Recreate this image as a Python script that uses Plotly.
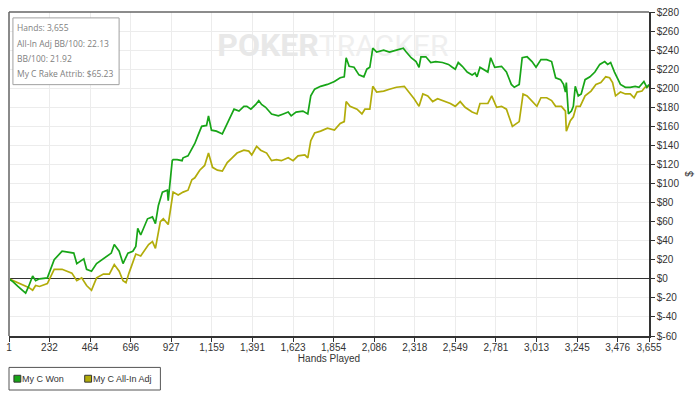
import plotly.graph_objects as go

# ---------------- data ----------------
won_hands = [1, 23, 52, 80, 96, 113, 136, 153, 175, 220, 259, 304, 371, 388, 428, 444, 472, 501, 540, 585,
             602, 630, 652, 680, 708, 725, 736, 753, 792, 820, 837, 854, 877, 905, 910, 922, 933, 938, 961, 989,
             995, 1023, 1045, 1062, 1079, 1101, 1129, 1140, 1157, 1185, 1219, 1242, 1258, 1286, 1314, 1342, 1359,
             1382, 1410, 1427, 1443, 1466, 1500, 1539, 1567, 1595, 1612, 1640, 1679, 1707, 1724, 1746, 1780, 1819,
             1859, 1892, 1915, 1926, 1943, 1971, 1999, 2027, 2044, 2061, 2078, 2100, 2140, 2173, 2213, 2252, 2269,
             2297, 2325, 2342, 2353, 2381, 2409, 2437, 2476, 2510, 2532, 2549, 2566, 2589, 2617, 2645, 2662, 2673,
             2690, 2735, 2751, 2774, 2813, 2841, 2869, 2886, 2914, 2931, 2959, 2987, 3010, 3038, 3071, 3099, 3122,
             3150, 3167, 3178, 3183, 3195, 3212, 3223, 3234, 3251, 3268, 3290, 3318, 3346, 3374, 3402, 3419, 3436,
             3458, 3475, 3492, 3520, 3548, 3576, 3598, 3626, 3643, 3655]
won_values = [0, -3, -8, -12, -15, -8, 3, -2, 0, 1, 20, 29, 27, 16, 21, 10, 8, 16, 21, 27,
              36, 29, 16, 27, 29, 34, 53, 46, 63, 65, 58, 77, 91, 93, 82, 104, 124, 125, 125, 124,
              127, 129, 137, 142, 150, 160, 161, 171, 156, 155, 152, 161, 168, 178, 176, 181, 181,
              178, 183, 187, 183, 180, 173, 171, 173, 175, 171, 175, 176, 173, 192, 199, 202, 204,
              207, 211, 212, 232, 223, 222, 214, 212, 220, 222, 242, 238, 240, 238, 240, 242, 238,
              232, 228, 222, 233, 233, 227, 228, 227, 225, 222, 220, 227, 223, 217, 214, 216, 212,
              222, 217, 232, 222, 223, 217, 204, 201, 204, 232, 233, 228, 222, 230, 230, 228, 211,
              209, 204, 196, 206, 173, 176, 181, 202, 192, 194, 209, 212, 217, 225, 228, 225, 227,
              217, 211, 204, 201, 201, 202, 201, 207, 201, 204]

adj_hands = [1, 52, 80, 113, 136, 153, 175, 220, 259, 304, 360, 388, 416, 444, 472, 501, 540, 574, 602, 630,
             652, 669, 686, 725, 753, 798, 820, 837, 865, 882, 910, 933, 938, 967, 995, 1023, 1045, 1062, 1090,
             1118, 1140, 1163, 1191, 1219, 1247, 1275, 1303, 1342, 1370, 1387, 1415, 1438, 1472, 1500, 1528,
             1556, 1595, 1623, 1651, 1690, 1707, 1724, 1746, 1780, 1819, 1859, 1892, 1915, 1926, 1948, 1988,
             2016, 2033, 2061, 2078, 2100, 2140, 2173, 2213, 2258, 2286, 2314, 2342, 2364, 2392, 2420, 2448,
             2482, 2521, 2549, 2577, 2605, 2645, 2673, 2690, 2735, 2757, 2785, 2813, 2841, 2858, 2875, 2914,
             2936, 2959, 2987, 3015, 3038, 3071, 3099, 3122, 3155, 3178, 3183, 3206, 3223, 3240, 3262, 3290,
             3324, 3352, 3380, 3408, 3430, 3447, 3464, 3492, 3520, 3548, 3570, 3587, 3615, 3632, 3655]
adj_values = [0, -4, -7, -9, -12, -7, -8, -5, 10, 10, 6, -2, 1, -7, -12, 1, 5, 5, 15, 8,
              -2, -4, 6, 26, 24, 36, 39, 32, 60, 63, 57, 86, 91, 88, 91, 93, 104, 106, 114,
              119, 132, 117, 114, 113, 122, 127, 132, 135, 134, 130, 139, 135, 132, 124, 125,
              124, 127, 124, 129, 130, 127, 145, 153, 155, 158, 156, 163, 165, 186, 181, 178,
              173, 178, 178, 202, 196, 197, 199, 201, 202, 196, 189, 181, 194, 192, 186, 189,
              187, 184, 181, 186, 180, 175, 173, 184, 184, 192, 180, 181, 178, 168, 160, 165,
              194, 192, 187, 181, 190, 190, 187, 181, 181, 176, 155, 166, 170, 181, 181, 192,
              197, 204, 206, 212, 211, 206, 192, 196, 194, 194, 190, 196, 197, 201, 202]

series_names = ["My C Won", "My C All-In Adj"]
series_colors = ["#17a517", "#b2ac0a"]

x_ticks = [1, 232, 464, 696, 927, 1159, 1391, 1623, 1854, 2086, 2318, 2549, 2781, 3013, 3245, 3476, 3655]
x_tick_labels = ["1", "232", "464", "696", "927", "1,159", "1,391", "1,623", "1,854", "2,086", "2,318",
                 "2,549", "2,781", "3,013", "3,245", "3,476", "3,655"]
y_ticks = list(range(-60, 281, 20))
y_tick_labels = ["$" + str(v) for v in y_ticks]

stats_lines = ["Hands: 3,655", "All-In Adj BB/100: 22.13", "BB/100: 21.92", "My C Rake Attrib: $65.23"]

# ---------------- layout helpers (pixel -> paper) ----------------
W, H = 700, 396
L, R, T, B = 6, 657, 6, 336


def px(x):
    return (x - L) / (R - L)


def py(y):
    return (B - y) / (B - T)


fig = go.Figure()

# watermark behind the lines
fig.add_trace(go.Scatter(x=[1770], y=[242], mode="text", text=["<b>POKER</b>"], textposition="middle left",
                         textfont=dict(family="Roboto", size=32, color="#e8e8e8"),
                         showlegend=False, hoverinfo="skip"))
fig.add_trace(go.Scatter(x=[1770], y=[242], mode="text", text=["TRACKER"], textposition="middle right",
                         textfont=dict(family="Roboto", size=30, color="#efefef"),
                         showlegend=False, hoverinfo="skip"))

fig.add_trace(go.Scatter(x=adj_hands, y=adj_values, mode="lines", name=series_names[1],
                         line=dict(color=series_colors[1], width=1.7), showlegend=False))
fig.add_trace(go.Scatter(x=won_hands, y=won_values, mode="lines", name=series_names[0],
                         line=dict(color=series_colors[0], width=1.7), showlegend=False))

tick_font = dict(family="Liberation Sans, Arial", size=10, color="#333")

fig.update_layout(
    width=W, height=H,
    margin=dict(l=L, r=W - R, t=T, b=H - B),
    paper_bgcolor="white", plot_bgcolor="white",
    showlegend=False,
    xaxis=dict(range=[1, 3655], tickvals=x_ticks, ticktext=x_tick_labels, tickfont=tick_font,
               showgrid=True, gridcolor="#ececec", gridwidth=1, zeroline=False,
               showline=True, linecolor="#333", linewidth=1.5,
               ticks="outside", ticklen=4, tickcolor="#333", ticklabelstandoff=-3,
               title=dict(text="Hands Played", font=tick_font, standoff=0)),
    yaxis=dict(range=[-60, 280], tickvals=y_ticks, ticktext=y_tick_labels, tickfont=tick_font,
               side="right", showgrid=True, gridcolor="#ececec", gridwidth=1,
               zeroline=True, zerolinecolor="#333", zerolinewidth=1.2,
               showline=True, linecolor="#333", linewidth=1.5,
               ticks="outside", ticklen=4, tickcolor="#333",
               title=dict(text="$", font=tick_font, standoff=8)),
)

shapes = [
    # left and top frame lines
    dict(type="line", xref="paper", yref="paper", x0=0, x1=0, y0=0, y1=1,
         line=dict(color="#8a8a8a", width=2)),
    dict(type="line", xref="paper", yref="paper", x0=0, x1=1, y0=1, y1=1,
         line=dict(color="#666", width=1.5)),
    # stats box
    dict(type="rect", xref="paper", yref="paper", x0=px(10), x1=px(118), y0=py(80), y1=py(12),
         line=dict(color="#a0a0a0", width=1), fillcolor="white", layer="above"),
    # legend box
    dict(type="rect", xref="paper", yref="paper", x0=px(6), x1=px(160), y0=py(391), y1=py(368),
         line=dict(color="#555", width=1), fillcolor="white"),
]
legend_sq_x = [11, 83]
for sx, col in zip(legend_sq_x, series_colors):
    shapes.append(dict(type="rect", xref="paper", yref="paper", x0=px(sx), x1=px(sx + 7),
                       y0=py(383), y1=py(376), line=dict(color="#333", width=1), fillcolor=col))
fig.update_layout(shapes=shapes)

annotations = []
for i, line in enumerate(stats_lines):
    annotations.append(dict(xref="paper", yref="paper", x=px(12.5), y=py(22 + i * 15.6), text=line,
                            showarrow=False, xanchor="left", yanchor="middle",
                            font=dict(family="Open Sans", size=8.5, color="#808080")))
for sx, name in zip(legend_sq_x, series_names):
    annotations.append(dict(xref="paper", yref="paper", x=px(sx + 6), y=py(380), text=name,
                            showarrow=False, xanchor="left", yanchor="middle",
                            font=dict(family="Liberation Sans, Arial", size=9, color="#333")))
fig.update_layout(annotations=annotations)

fig.write_html("out.html")
